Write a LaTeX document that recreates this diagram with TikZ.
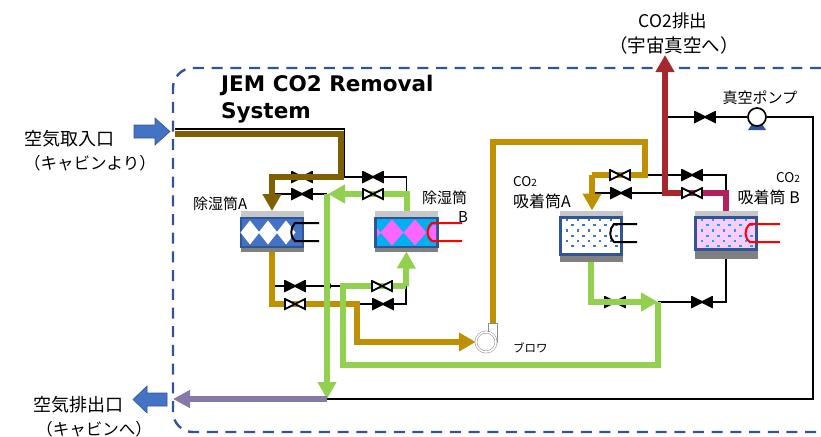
\documentclass[tikz,border=0pt]{standalone}
\usepackage{fontspec}
\setmainfont{Noto Sans CJK JP}
\newfontfamily\ttlfont{DejaVu Sans}
\usepackage{tikz}
\usetikzlibrary{arrows.meta,positioning,calc,backgrounds}
\definecolor{cLine}{HTML}{2F5597}
\definecolor{cBlue}{HTML}{4472C4}
\definecolor{cCyan}{HTML}{00B0F0}
\definecolor{cMag} {HTML}{FF66FF}
\definecolor{cPink}{HTML}{FFCCFF}
\definecolor{cGrn} {HTML}{92D050}
\definecolor{cGold}{HTML}{BF9000}
\definecolor{cBrn} {HTML}{7F6000}
\definecolor{cRed} {HTML}{A5282F}
\definecolor{cCrim}{HTML}{B0215E}
\definecolor{cPurp}{HTML}{8678A9}
\tikzset{
  vbase/.style ={minimum width=22pt,minimum height=12pt,inner sep=0pt,outer sep=0pt},
  vshut/.style ={vbase,path picture={\draw[black,fill=black,line width=1.8pt]
      ($(path picture bounding box.north west)+(1,1)$)--($(path picture bounding box.south east)+(-1,-1)$)--
      ($(path picture bounding box.north east)+(-1,1)$)--($(path picture bounding box.south west)+(1,-1)$)--cycle;}},
  vopen/.style ={vbase,path picture={\draw[black,fill=white,line width=1.8pt]
      ($(path picture bounding box.north west)+(1,1)$)--($(path picture bounding box.south east)+(-1,-1)$)--
      ($(path picture bounding box.north east)+(-1,1)$)--($(path picture bounding box.south west)+(1,-1)$)--cycle;}},
  thin line/.style={draw=black,line width=1.7pt},
  coil/.style  ={line width=2pt},
  pipe/.style  ={line width=6pt,line join=miter},
  gpipe/.style ={pipe,draw=cGrn},
  apipe/.style ={pipe,draw=cGold},
  hd/.style    ={-{Triangle[width=18pt,length=17pt]}},
  hop/.style   ={circle,fill=black,inner sep=0pt,minimum size=7pt},
  caplt/.style ={fill=black!22,inner sep=0pt,outer sep=0pt,minimum height=7pt},
  capdk/.style ={fill=black!50,inner sep=0pt,outer sep=0pt},
  body/.style  ={draw=cLine,line width=2.2pt,inner sep=0pt,outer sep=0pt},
  jp/.style    ={inner sep=0pt,font=\fontsize{15}{18}\selectfont},
  jpc/.style   ={inner sep=0pt,font=\fontsize{16.5}{18}\selectfont},
  jpl/.style   ={inner sep=0pt,font=\fontsize{18}{20}\selectfont},
  portarrow/.style={fill=cBlue,draw=cLine,line width=.6pt},
}
\begin{document}
\begin{tikzpicture}[x=1pt,y=-1pt]
\useasboundingbox (0,0) rectangle (821,436);

% ===== system outline ======================================================
\draw[cLine,line width=2.4pt,dash pattern=on 11pt off 7.7pt,rounded corners=20pt]
  (821,68) -- (173,68) -- (173,432) -- (821,432);
\node[anchor=north west,inner sep=0pt,align=left,font=\ttlfont\bfseries\fontsize{21.5}{27}\selectfont] (ttl) at (221,75)
  {JEM CO2 Removal\\System};

% ===== canisters ===========================================================
\node[caplt,minimum width=63pt] (capA) at (272,214.5) {};
\node[capdk,minimum width=63pt,minimum height=5pt] (botA) at (272,249) {};
\node[body,fill=cBlue,minimum width=62pt,minimum height=29pt] (dryA) at (272,232.5) {};
\foreach \x in {250,268,286} \fill[white] (\x-9.5,232.5) -- (\x,220.5) -- (\x+9.5,232.5) -- (\x,244.5) -- cycle;

\node[caplt,minimum width=63pt] (capB) at (406.5,214.5) {};
\node[capdk,minimum width=63pt,minimum height=5pt] (botB) at (406.5,249) {};
\node[body,fill=cCyan,minimum width=62pt,minimum height=29pt] (dryB) at (406.5,232.5) {};
\foreach \x in {392,415} \fill[cMag] (\x-11.5,232.5) -- (\x,219.5) -- (\x+11.5,232.5) -- (\x,245.5) -- cycle;
\fill[cMag] (377,228) -- (381,232.5) -- (377,237) -- cycle;
\fill[cMag] (427,232.5) -- (433,225) -- (436,225) -- (436,240) -- (433,240) -- cycle;

\node[caplt,minimum width=63pt,minimum height=7pt] (capC) at (591,214) {};
\node[capdk,minimum width=63pt,minimum height=8pt] (botC) at (591,258) {};
\node[body,fill=white,minimum width=61pt,minimum height=37pt] (adsA) at (591,236) {};
\node[caplt,minimum width=63pt,minimum height=7pt] (capD) at (726,214) {};
\node[capdk,minimum width=63pt,minimum height=9pt] (botD) at (726,254) {};
\node[body,fill=cPink,minimum width=61pt,minimum height=32pt] (adsB) at (726,233.5) {};
\foreach \r/\y in {0/220,1/225,0/230.5,1/236,0/241,1/246}
  \foreach \c in {0,...,4} {
    \fill[cBlue] ({567+11*\c+5.5*\r-1.4},\y-1.4) rectangle +(2.8,2.8);
    \fill[cCyan] ({702+11*\c+5.5*\r-1.4},\y-1.4) rectangle +(2.8,2.8);
  }

% heater loops
\draw[coil,black] (319,223) -- (295,223) .. controls (290,228) and (290,237) .. (295,241) -- (319,241);
\draw[coil,red] (462,223) -- (432,223) .. controls (426,228) and (426,237) .. (432,241) -- (462,241);
\draw[coil,black] (637,224) -- (614,224) .. controls (609,229) and (609,238) .. (614,242) -- (637,242);
\draw[coil,red] (780,224) -- (750,224) .. controls (744,229) and (744,238) .. (750,242) -- (780,242);

% ===== valves, pump and blower =============================================
\node[vopen] (va1) at (302,177) {};
\node[vshut] (va2) at (302,194) {};
\node[vshut] (vb1) at (373,177) {};
\node[vshut] (vc1) at (295,286) {};
\node[vshut] (vd2) at (383,304) {};
\node[vshut] (ve2) at (621,193) {};
\node[vshut] (vf1) at (692,175) {};
\node[vshut] (vg1) at (615,302) {};
\node[vshut] (vg2) at (702,302) {};
\node[vshut] (vp)  at (705,117) {};
\fill[cLine] (748,130) -- (752,124) -- (762,124) -- (766,130) -- cycle;
\node[circle,draw=black,fill=white,line width=1.7pt,minimum size=18pt,inner sep=0pt] (pump) at (757,117) {};
\node[circle,draw=black!45,double,double distance=1.6pt,line width=.5pt,fill=white,minimum size=20pt,inner sep=0pt] (blow) at (486,342) {};
\draw[black!45,line width=.6pt] (488,332) -- (488,323) -- (497,323) -- (497,343);

% named junctions on the lines
\coordinate (inN)  at (175,129);
\coordinate (inS)  at (175,133.5);
\coordinate (crN)  at (344.5,129);
\coordinate (crS)  at (341,133.5);
\coordinate (jDryL) at (272,177);
\coordinate (jOut)  at (327,399);
\coordinate (jSt)   at (357,304);
\coordinate (jRt)   at (406,286);
\coordinate (jGrn)  at (343,286);
\coordinate (jFw)   at (658,302);
\coordinate (jVac)  at (813,399);
\coordinate (jTop)  at (645,142);
\coordinate (jAds)  at (592,175);

% ===== thin lines ==========================================================
\begin{scope}[on background layer]
  \draw[thin line] (inN) -- (crN) -- (crN |- vb1) -- (vb1) -| (dryB.north |- vb1) -- (dryB.north |- va2);
  \draw[thin line] (dryA.north |- va2) -- (va2) -- (327,194);
  \draw[thin line] (dryA.south |- vc1) -- (vc1) -- (jRt) -- (jRt |- vd2) -- (vd2) -- (jSt);
  \draw[thin line] (jOut) -- (jVac) -- (jVac |- pump) -- (pump) -- (vp) -- (665,117);
  \draw[thin line] (ve2) -- (665,193) (ve2) -- (jAds |- ve2);
  \draw[thin line] (jTop |- vf1) -- (vf1) -| (botD.north |- 0,193);
  \draw[thin line] (jFw) -- (vg2) -| (botD.south);
  \foreach \p in {(328,286),(328,304),(344,304),(665,175)} \node[hop] at \p {};
\end{scope}

% ===== coloured flow lines =================================================
\draw[pipe,draw=cBrn,hd] (inS) -- (crS) -- (crS |- jDryL) -- (jDryL) -- (capA.north);
\draw[apipe,hd] (botA.south) |- (jSt) |- (blow.west);
\draw[apipe] (493,323) -- (493,142) -| (jTop |- vf1) -- (jAds);
\draw[apipe,hd] (jAds) -- (capC.north -| jAds);
\draw[gpipe,hd] (dryB.north |- capB.north) |- (328,194);
\draw[gpipe,hd] (327,194) -- (jOut);
\draw[gpipe,hd] (jRt) -- (botB.south);
\draw[gpipe] (jRt) -- (jGrn) -- (jGrn |- 0,365) -| (jFw);
\draw[gpipe,hd] (botC.south) |- (jFw);
\draw[pipe,draw=cCrim] (682,193) -| (capD.north);
\draw[pipe,draw=cRed,hd] (684,193) -| (665,55);
\draw[pipe,draw=cPurp,line width=5.5pt,-{Triangle[width=17pt,length=17pt]}] (jOut) -- (173,399);

% open valves stand over the lines
\node[vopen] (vb2) at (373,194) {};
\node[vopen] (vc2) at (295,304) {};
\node[vopen] (vd1) at (382,286) {};
\node[vopen] (ve1) at (620,175) {};
\node[vopen] (vf2) at (692,193) {};

% ===== cabin ports =========================================================
\path[portarrow] (134,125) -- (155,125) -- (155,118) -- (170,131.5) -- (155,145) -- (155,138) -- (134,138) -- cycle;
\path[portarrow] (167,393) -- (147,393) -- (147,386) -- (133,399.5) -- (147,413) -- (147,406) -- (167,406) -- cycle;

% ===== labels ==============================================================
\node[jpl] (lblIn)   at (69.5,139) {空気取入口};
\node[jpc] (lblInC)  at (90,163) {（キャビンより）};
\node[jpl] (lblOut)  at (78,405) {空気排出口};
\node[jpc] (lblOutC) at (94,429) {（キャビンへ）};
\node[jp,font=\fontsize{17.5}{18}\selectfont] (lblVent) at (673,21) {CO2排出};
\node[jp,font=\fontsize{18.5}{20}\selectfont] (lblSpace) at (674,45) {（宇宙真空へ）};
\node[jp]  (lblPump) at (760,98) {真空ポンプ};
\node[jp,anchor=west] (lblDA) at (193,204) {除湿筒A};
\node[jp]  (lblDB)  at (444.5,198) {除湿筒};
\node[jp]  (lblDBb) at (463,217) {B};
\node[jp,anchor=west,font=\fontsize{13.5}{16}\selectfont] (lblCa) at (513,182) {CO{\fontsize{10}{10}\selectfont 2}};
\node[jp,anchor=west,font=\fontsize{16}{18}\selectfont] (lblCA) at (513,201) {吸着筒A};
\node[jp,anchor=east,font=\fontsize{13.5}{16}\selectfont] (lblCb) at (800,178) {CO{\fontsize{10}{10}\selectfont 2}};
\node[jp,anchor=east,font=\fontsize{16}{18}\selectfont] (lblCB) at (800,197) {吸着筒 B};
\node[jp,anchor=west,font=\fontsize{11.5}{14}\selectfont] (lblBlow) at (513,348) {ブロワ};
\end{tikzpicture}
\end{document}
